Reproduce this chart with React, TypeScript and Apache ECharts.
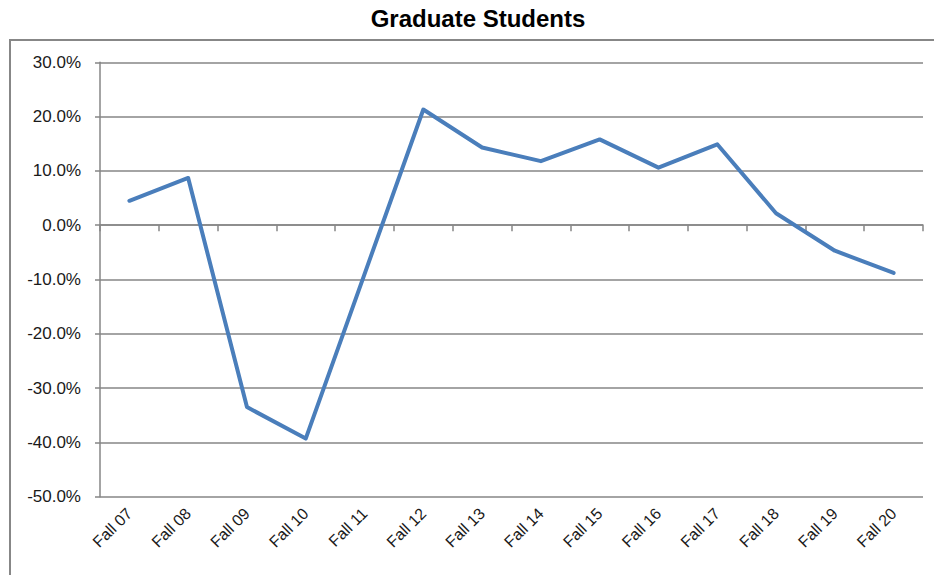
import React, { useEffect, useRef } from "react";
import * as echarts from "echarts";

const categories = ["Fall 07", "Fall 08", "Fall 09", "Fall 10", "Fall 11", "Fall 12", "Fall 13", "Fall 14", "Fall 15", "Fall 16", "Fall 17", "Fall 18", "Fall 19", "Fall 20"];
const growth = [4.5, 8.7, -33.5, -39.3, -9.0, 21.3, 14.3, 11.8, 15.8, 10.6, 14.9, 2.2, -4.7, -8.8];
const yMin = -50;
const yMax = 30;
const yStep = 10;
const title = "Graduate Students";

export default function App() {
  const ref = useRef<HTMLDivElement>(null);
  useEffect(() => {
    if (!ref.current) return;
    const chart = echarts.init(ref.current, null, { renderer: "svg" });
    const labelFont = "'Liberation Sans', Arial, sans-serif";
    chart.setOption({
      animation: false,
      backgroundColor: "#ffffff",
      graphic: [
        {
          type: "rect",
          shape: { x: 10, y: 40, width: 1000, height: 600 },
          style: { fill: "none", stroke: "#878787", lineWidth: 2 },
          silent: true,
          z: -10,
        },
        {
          type: "text",
          x: 478,
          y: 18,
          style: {
            text: title,
            textAlign: "center",
            textVerticalAlign: "middle",
            fontFamily: "'Liberation Sans', Arial, sans-serif",
            fontWeight: "bold",
            fontSize: 24,
            fill: "#000000",
          },
        },
      ],
      grid: { left: 100, top: 62.3, right: 11, bottom: 78.3, containLabel: false },
      xAxis: [
        {
          type: "category",
          data: categories,
          position: "bottom",
          axisLine: { show: false, onZero: false },
          axisTick: { show: false },
          axisLabel: {
            rotate: 45,
            margin: 14,
            fontFamily: labelFont,
            fontSize: 16,
            color: "#1a1a1a",
          },
        },
        {
          type: "category",
          data: categories,
          position: "bottom",
          axisLine: { show: true, onZero: true, lineStyle: { color: "#868686", width: 1.5 } },
          axisTick: { show: true, length: 6, lineStyle: { color: "#868686", width: 1.5 } },
          axisLabel: { show: false },
        },
      ],
      yAxis: {
        type: "value",
        min: yMin,
        max: yMax,
        interval: yStep,
        axisLine: { show: true, lineStyle: { color: "#868686", width: 1.5 } },
        axisTick: { show: true, length: 5, lineStyle: { color: "#868686", width: 1.5 } },
        splitLine: { show: true, lineStyle: { color: "#868686", width: 1.5 } },
        axisLabel: {
          margin: 19,
          fontFamily: labelFont,
          fontSize: 17,
          color: "#1a1a1a",
          formatter: (v: number) => v.toFixed(1) + "%",
        },
      },
      series: [
        {
          type: "line",
          data: growth,
          xAxisIndex: 0,
          showSymbol: false,
          symbol: "none",
          lineStyle: { color: "#4a7ebb", width: 4, cap: "round", join: "round" },
          itemStyle: { color: "#4a7ebb" },
        },
      ],
    });
    return () => chart.dispose();
  }, []);
  return (
    <div
      ref={ref}
      style={{ position: "fixed", left: 0, top: 0, width: 934, height: 575, background: "#fff" }}
    />
  );
}
